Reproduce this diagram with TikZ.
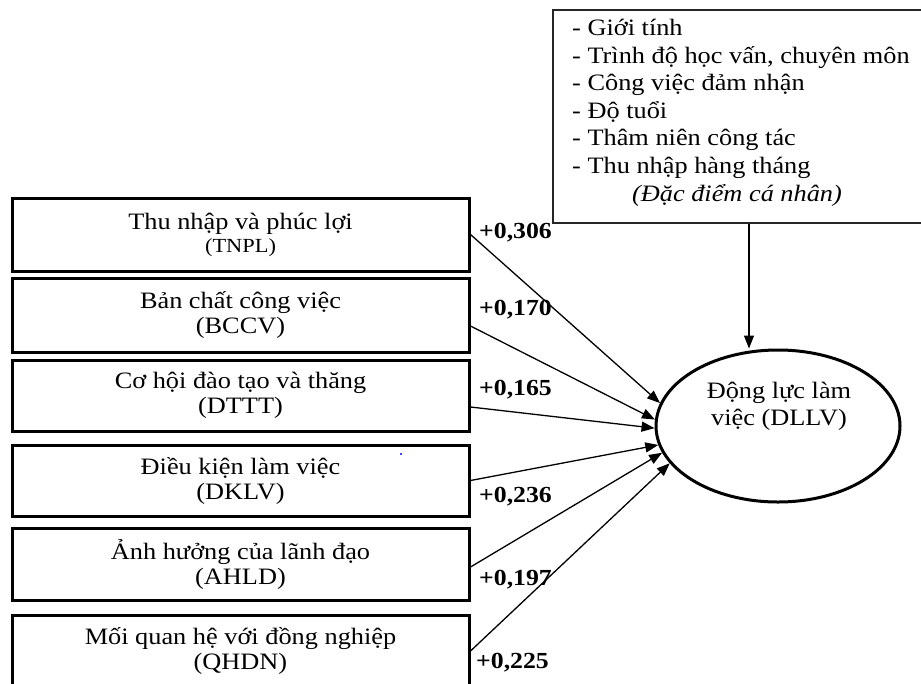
\documentclass[tikz,border=0pt]{standalone}
\usepackage{fontspec}
\setmainfont{Liberation Serif}[FakeStretch=1.12]
\usetikzlibrary{shapes.geometric,arrows.meta}
\begin{document}
\begin{tikzpicture}[x=1pt,y=-1pt,
  fbox/.style={draw, line width=3pt, minimum width=457pt, inner sep=0pt, align=center,
    font=\fontsize{23.5}{25}\selectfont},
  coef/.style={anchor=west, inner sep=0pt, font=\fontsize{23}{25}\selectfont\bfseries},
  arr/.style={line width=1.3pt, -{Triangle[length=13pt,width=10pt]}},
  txt/.style={inner sep=0pt, font=\fontsize{23.5}{27.5}\selectfont}
  ]
\useasboundingbox (0,0) rectangle (921,683);
% factor boxes
\node[fbox, minimum height=73pt] (b1) at (240.5,234.5) {Thu nhập và phúc lợi\\[-2pt]{\fontsize{20}{20}\selectfont (TNPL)}};
\node[fbox, minimum height=74pt] (b2) at (240.5,315) {Bản chất công việc\\(BCCV)};
\node[fbox, minimum height=71pt] (b3) at (240.5,395.5) {Cơ hội đào tạo và thăng\\(DTTT)};
\node[fbox, minimum height=71pt] (b4) at (240.5,480.5) {Điều kiện làm việc\\(DKLV)};
\node[fbox, minimum height=72pt] (b5) at (240.5,564) {Ảnh hưởng của lãnh đạo\\(AHLD)};
\node[fbox, minimum height=72pt] (b6) at (240.5,651) {Mối quan hệ với đồng nghiệp\\(QHDN)};
% personal characteristics box (its right side runs past the picture's edge)
\node[draw=black!85, line width=1.5pt, minimum width=387pt, minimum height=213pt, inner sep=0pt] (dd) at (746.5,116.5) {};
\node[txt, anchor=west, align=left] (ddl) at (572,99) {- Giới tính\\- Trình độ học vấn, chuyên môn\\- Công việc đảm nhận\\- Độ tuổi\\- Thâm niên công tác\\- Thu nhập hàng tháng};
\node[txt, font=\fontsize{23.5}{27.5}\selectfont\itshape] (ddi) at (737,195) {(Đặc điểm cá nhân)};
% outcome ellipse
\node[ellipse, draw, line width=3pt, minimum width=244pt, minimum height=152pt, inner sep=0pt] (dl) at (778,426) {};
\node[txt, align=center, font=\fontsize{23.5}{27}\selectfont] (dlt) at (779,406.5) {Động lực làm\\việc (DLLV)};
% arrows
\draw[arr] (b1.east) -- (dl.169);
\draw[arr] ([yshift=-11pt]b2.east) -- (dl.177);
\draw[arr] ([yshift=-11.5pt]b3.east) -- (dl.181.5);
\draw[arr] (b4.east) -- (dl.189.4);
\draw[arr] ([yshift=-3pt]b5.east) -- (dl.193.5);
\draw[arr] (b6.east) -- (dl.199.4);
\coordinate (topx) at (749,0);
\draw[arr] (dd.south -| topx) -- (dl.north -| topx);
% coefficients
\node[coef] (c1) at (479,233) {+0,306};
\node[coef] (c2) at (479,310) {+0,170};
\node[coef] (c3) at (479,390) {+0,165};
\node[coef] (c4) at (479,497) {+0,236};
\node[coef] (c5) at (479,580) {+0,197};
\node[coef] (c6) at (476,663) {+0,225};
% stray dot
\fill[blue] (401,454) circle (1.2pt);
\end{tikzpicture}
\end{document}
